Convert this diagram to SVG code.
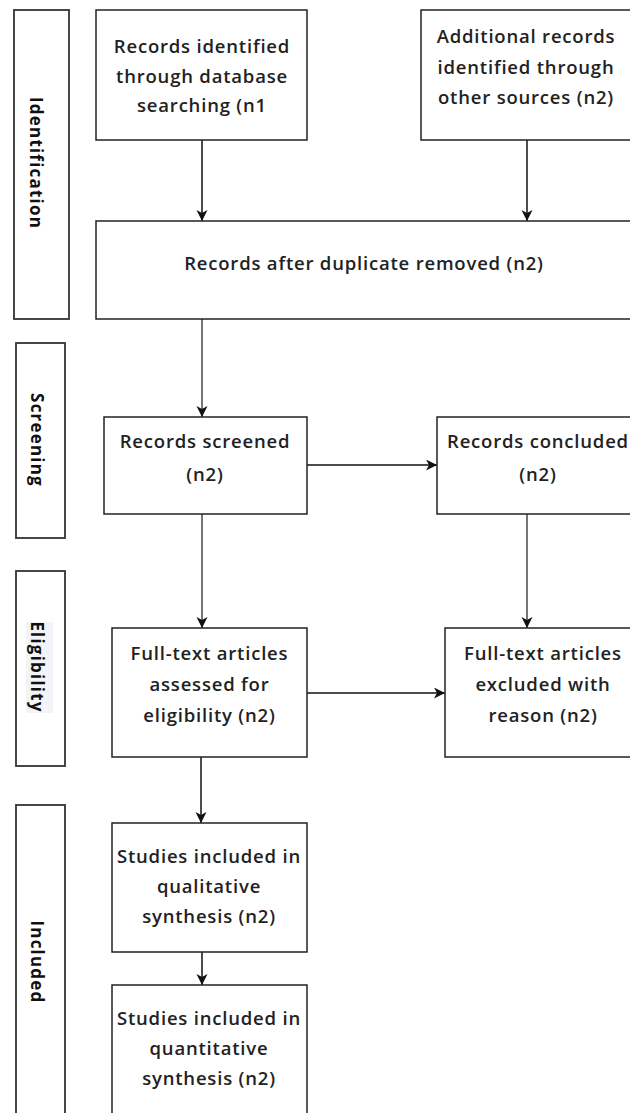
<svg xmlns="http://www.w3.org/2000/svg" width="630" height="1113" viewBox="0 0 630 1113">
<style>
  .box { fill: #ffffff; stroke: #222222; stroke-width: 1.5; }
  .side { fill: #ffffff; stroke: #333333; stroke-width: 1.8; }
  .t { font-family: "Open Sans", "Liberation Sans", sans-serif; font-weight: 600; font-size: 18.5px; fill: #222222; text-anchor: middle; letter-spacing: 0.8px; }
  .lbl { font-family: "Open Sans", "Liberation Sans", sans-serif; font-weight: 700; font-size: 17px; fill: #111111; text-anchor: middle; letter-spacing: 1.2px; }
  .c { fill: none; stroke: #111111; stroke-width: 1.5; marker-end: url(#arr); }
  .cg { fill: none; stroke: #666666; stroke-width: 1.8; marker-end: url(#arr); }
</style>
<defs>
  <marker id="arr" markerUnits="userSpaceOnUse" markerWidth="12" markerHeight="12" refX="11" refY="5.5" orient="auto">
    <path d="M0,0 L11,5.5 L0,11 L3,5.5 Z" fill="#111111"/>
  </marker>
</defs>
<rect width="630" height="1113" fill="#ffffff"/>

<g id="side-identification">
  <rect class="side" x="14" y="10" width="55" height="309"/>
  <text class="lbl" transform="translate(30,163) rotate(90)">Identification</text>
</g>
<g id="side-screening">
  <rect class="side" x="16" y="343" width="49" height="195"/>
  <text class="lbl" transform="translate(31,440) rotate(90)">Screening</text>
</g>
<g id="side-eligibility">
  <rect class="side" x="16" y="571" width="49" height="195"/>
  <rect x="26" y="622" width="27" height="91" fill="#f2f4f7"/>
  <text class="lbl" transform="translate(31,667) rotate(90)">Eligibility</text>
</g>
<g id="side-included">
  <rect class="side" x="16" y="805" width="49" height="330"/>
  <text class="lbl" transform="translate(31,962) rotate(90)">Included</text>
</g>

<g id="connectors">
  <line class="c" x1="202" y1="140" x2="202" y2="221"/>
  <line class="c" x1="527" y1="140" x2="527" y2="221"/>
  <line class="cg" x1="202" y1="319" x2="202" y2="417"/>
  <line class="c" x1="307" y1="465" x2="437" y2="465"/>
  <line class="cg" x1="202" y1="514" x2="202" y2="628"/>
  <line class="cg" x1="527" y1="514" x2="527" y2="628"/>
  <line class="c" x1="307" y1="693" x2="445" y2="693"/>
  <line class="c" x1="201" y1="757" x2="201" y2="823"/>
  <line class="c" x1="202" y1="952" x2="202" y2="985"/>
</g>

<g id="n-db">
  <rect class="box" x="96" y="10" width="211" height="130"/>
  <text class="t" x="202" y="53">Records identified</text>
  <text class="t" x="202" y="82.5">through database</text>
  <text class="t" x="202" y="112">searching (n1</text>
</g>
<g id="n-other">
  <rect class="box" x="421" y="10" width="220" height="130"/>
  <text class="t" x="526" y="43">Additional records</text>
  <text class="t" x="526" y="73.5">identified through</text>
  <text class="t" x="526" y="104">other sources (n2)</text>
</g>
<g id="n-dup">
  <rect class="box" x="96" y="221" width="545" height="98"/>
  <text class="t" x="364" y="270">Records after duplicate removed (n2)</text>
</g>
<g id="n-screened">
  <rect class="box" x="104" y="417" width="203" height="97"/>
  <text class="t" x="205" y="448">Records screened</text>
  <text class="t" x="205" y="481">(n2)</text>
</g>
<g id="n-concluded">
  <rect class="box" x="437" y="417" width="204" height="97"/>
  <text class="t" x="538" y="448">Records concluded</text>
  <text class="t" x="538" y="481">(n2)</text>
</g>
<g id="n-assessed">
  <rect class="box" x="112" y="628" width="195" height="129"/>
  <text class="t" x="209.5" y="660">Full-text articles</text>
  <text class="t" x="209.5" y="691">assessed for</text>
  <text class="t" x="209.5" y="722">eligibility (n2)</text>
</g>
<g id="n-excluded">
  <rect class="box" x="445" y="628" width="196" height="129"/>
  <text class="t" x="543" y="660">Full-text articles</text>
  <text class="t" x="543" y="691">excluded with</text>
  <text class="t" x="543" y="722">reason (n2)</text>
</g>
<g id="n-qualitative">
  <rect class="box" x="112" y="823" width="195" height="129"/>
  <text class="t" x="209" y="863">Studies included in</text>
  <text class="t" x="209" y="893">qualitative</text>
  <text class="t" x="209" y="923">synthesis (n2)</text>
</g>
<g id="n-quantitative">
  <rect class="box" x="112" y="985" width="195" height="150"/>
  <text class="t" x="209" y="1025">Studies included in</text>
  <text class="t" x="209" y="1055">quantitative</text>
  <text class="t" x="209" y="1085">synthesis (n2)</text>
</g>
</svg>
